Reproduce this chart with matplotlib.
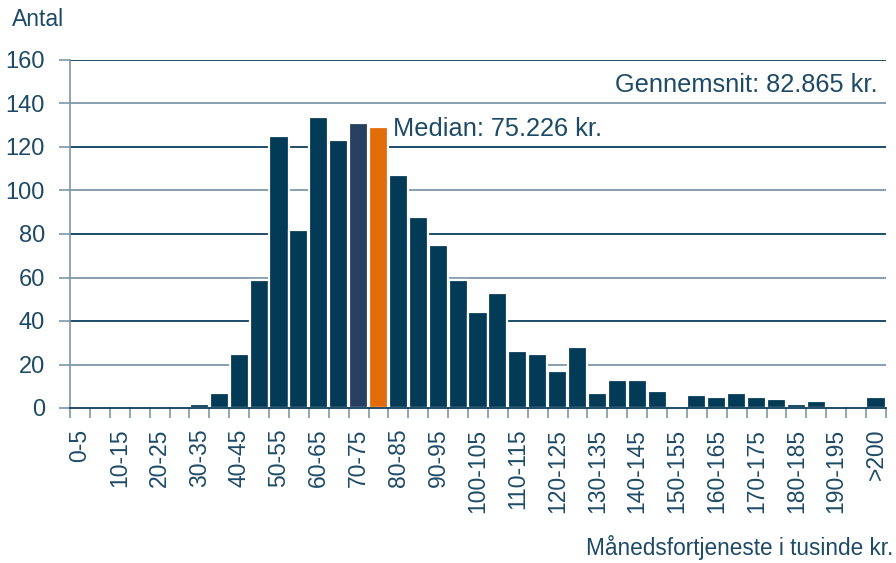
import numpy as np
import matplotlib.pyplot as plt
from matplotlib.ticker import FixedLocator

plt.rcParams["font.family"] = ["Liberation Sans", "DejaVu Sans"]

# --- data -------------------------------------------------------------------
bins = [f"{lo}-{lo + 5}" for lo in range(0, 200, 5)] + [">200"]
counts = [0, 0, 0, 0, 0, 0, 2, 7, 25, 59,
          125, 82, 134, 123, 131, 129, 107, 88, 75, 59,
          44, 53, 26, 25, 17, 28, 7, 13, 13, 8,
          0, 6, 5, 7, 5, 4, 2, 3, 0, 0,
          5]
mean_label = "Gennemsnit: 82.865 kr."
median_label = "Median: 75.226 kr."
mean_bin = "70-75"
median_bin = "75-80"

NAVY = "#033a56"
SLATE = "#27405f"
ORANGE = "#e36c0a"
TEXT = "#1d4a66"
GRID_DARK = "#0d3e5c"
GRID_LIGHT = "#7d97a8"

colors = [NAVY] * len(bins)
colors[bins.index(mean_bin)] = SLATE
colors[bins.index(median_bin)] = ORANGE

x = np.arange(len(bins))

fig = plt.figure(figsize=(8.96, 5.63), dpi=100)
ax = fig.add_axes([70 / 896, 1 - 408 / 563, 816 / 896, 348 / 563])

# horizontal gridlines, alternating tone
for i, yv in enumerate(range(0, 161, 20)):
    ax.axhline(yv, color=GRID_DARK if i % 2 == 0 else GRID_LIGHT,
               linewidth=1.3, zorder=1)

# white outline keeps gridlines from touching the bars
ax.bar(x, counts, width=0.96, color=colors, edgecolor="white",
       linewidth=1.6, zorder=2)

ax.set_xlim(-0.5, len(bins) - 0.5)
ax.set_ylim(0, 160)

ax.set_yticks(range(0, 161, 20))
ax.tick_params(axis="y", length=8, width=1.2, color=GRID_LIGHT, pad=10,
               labelsize=17, labelcolor=TEXT)

# labels on every other bin, ticks at bin boundaries
ax.set_xticks(x[::2])
ax.set_xticklabels(bins[::2], rotation=90)
ax.tick_params(axis="x", which="major", length=0, pad=15,
               labelsize=16.5, labelcolor=TEXT)
ax.xaxis.set_minor_locator(FixedLocator(np.arange(-0.5, len(bins), 1.0)))
ax.tick_params(axis="x", which="minor", length=7, width=1.2,
               color=GRID_LIGHT)

for s in ("top", "right"):
    ax.spines[s].set_visible(False)
ax.spines["left"].set_color(GRID_LIGHT)
ax.spines["left"].set_linewidth(1.2)
ax.spines["bottom"].set_color(GRID_DARK)
ax.spines["bottom"].set_linewidth(1.3)

ax.text(bins.index(median_bin) + 0.72, 128.5, median_label, fontsize=18.3,
        color=TEXT, ha="left", va="center", zorder=3)
ax.text(len(bins) - 0.95, 148.5, mean_label, fontsize=18.3,
        color=TEXT, ha="right", va="center", zorder=3)

fig.text(12 / 896, 1 - 20 / 563, "Antal", fontsize=16.5, color=TEXT,
         ha="left", va="center")
fig.text(893 / 896, 1 - 548 / 563, "Månedsfortjeneste i tusinde kr.",
         fontsize=16.3, color=TEXT, ha="right", va="center")

fig.savefig("out.png", dpi=100)
